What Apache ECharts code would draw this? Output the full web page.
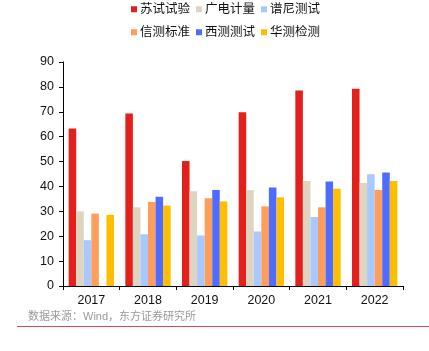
<!DOCTYPE html>
<html>
<head>
<meta charset="utf-8">
<script src="https://cdn.jsdelivr.net/npm/echarts@6/dist/echarts.min.js"></script>
<style>
  html, body { margin: 0; padding: 0; background: #fff; }
  #main { width: 429px; height: 351px; }
</style>
</head>
<body>
<div id="main"></div>
<script>
var years = ['2017', '2018', '2019', '2020', '2021', '2022'];
var names = ['苏试试验', '广电计量', '谱尼测试', '信测标准', '西测测试', '华测检测'];
var colors = ['#E3201B', '#DED5C0', '#A8C8FF', '#FF9D5A', '#4E6CFF', '#FFBE00'];

var suShi = [63.3, 69.3, 50.2, 69.8, 78.5, 79.3];
var guangDian = [30.0, 31.6, 38.1, 38.5, 42.2, 41.4];
var puNi = [18.4, 20.8, 20.3, 21.9, 27.7, 44.9];
var xinCe = [29.1, 33.8, 35.3, 32.0, 31.6, 38.6];
var xiCe = [null, 35.9, 38.6, 39.6, 42.0, 45.6];
var huaCe = [28.6, 32.3, 34.0, 35.6, 39.1, 42.2];
var values = [suShi, guangDian, puNi, xinCe, xiCe, huaCe];

var chart = echarts.init(document.getElementById('main'));

var series = names.map(function (n, i) {
  return {
    name: n,
    type: 'bar',
    data: values[i],
    barGap: 0,
    barCategoryGap: '20%',
    itemStyle: { color: colors[i] }
  };
});

var legendBase = {
  left: 131,
  itemWidth: 6,
  itemHeight: 6,
  itemGap: 6,
  icon: 'rect',
  textStyle: { fontSize: 12.5, color: '#111', padding: [0, 0, 0, -2] },
  padding: 0
};

var option = {
  animation: false,
  textStyle: { fontFamily: 'Liberation Sans, Noto Sans CJK SC, sans-serif' },
  legend: [
    Object.assign({}, legendBase, { top: 3, data: names.slice(0, 3) }),
    Object.assign({}, legendBase, { top: 26, data: names.slice(3) })
  ],
  grid: { left: 63, right: 26, top: 62, bottom: 65, containLabel: false },
  xAxis: {
    type: 'category',
    data: years,
    axisLine: { lineStyle: { color: '#000', width: 1 } },
    axisTick: { show: true, length: 4, lineStyle: { color: '#000' } },
    axisLabel: { fontSize: 12.5, color: '#111', margin: 8 }
  },
  yAxis: {
    type: 'value',
    min: 0,
    max: 90,
    interval: 10,
    splitLine: { show: false },
    axisLine: { show: true, lineStyle: { color: '#000', width: 1 } },
    axisTick: { show: true, length: 4, lineStyle: { color: '#000' } },
    axisLabel: { fontSize: 12.5, color: '#111', margin: 9 }
  },
  graphic: [
    {
      type: 'text',
      left: 28,
      top: 311,
      style: {
        text: '数据来源：Wind，东方证券研究所',
        fill: '#9a9a9a',
        font: '11px "Liberation Sans", "Noto Sans CJK SC", sans-serif'
      }
    },
    {
      type: 'line',
      shape: { x1: 17, y1: 326.5, x2: 429, y2: 326.5 },
      style: { stroke: '#E04A4A', lineWidth: 1 }
    }
  ],
  series: series
};

chart.setOption(option);
</script>
</body>
</html>
